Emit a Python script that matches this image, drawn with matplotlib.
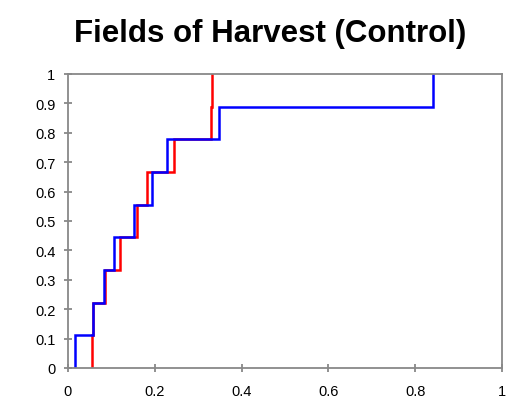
import numpy as np
import matplotlib
matplotlib.use("Agg")
import matplotlib.pyplot as plt

plt.rcParams['font.family'] = ['Liberation Sans', 'DejaVu Sans']

# ECDF jump locations (9 observations each)
red_x = [0.055, 0.058, 0.085, 0.120, 0.160, 0.181, 0.245, 0.329, 0.331]
blue_x = [0.015, 0.057, 0.083, 0.106, 0.152, 0.194, 0.229, 0.348, 0.841]
cdf_levels = [1/9, 2/9, 3/9, 4/9, 5/9, 6/9, 7/9, 8/9, 1.0]

x_ticks = [0, 0.2, 0.4, 0.6, 0.8, 1]
x_labels = ['0', '0.2', '0.4', '0.6', '0.8', '1']
y_ticks = [0, 0.1, 0.2, 0.3, 0.4, 0.5, 0.6, 0.7, 0.8, 0.9, 1]
y_labels = ['0', '0.1', '0.2', '0.3', '0.4', '0.5', '0.6', '0.7', '0.8', '0.9', '1']
title = 'Fields of Harvest (Control)'

fig = plt.figure(figsize=(5.18, 4.02), dpi=100)
ax = fig.add_axes([68/518, 1-369/402, (502-68)/518, (369-75)/402])

for xs, col in [(red_x, '#ff0000'), (blue_x, '#0000ff')]:
    ax.step(np.r_[xs[0], xs], np.r_[0.0, cdf_levels], where='post',
            color=col, linewidth=1.8, solid_joinstyle='miter')

ax.set_xlim(0, 1)
ax.set_ylim(0, 1)
ax.set_xticks(x_ticks)
ax.set_xticklabels(x_labels)
ax.set_yticks(y_ticks)
ax.set_yticklabels(y_labels)
for s in ax.spines.values():
    s.set_color('#888888')
    s.set_linewidth(1.3)
ax.tick_params(axis='both', direction='inout', length=6, width=1.3,
               color='#888888', labelsize=10.5, labelcolor='black')
ax.tick_params(axis='x', pad=8.5)
ax.tick_params(axis='y', pad=6)

fig.text(270/518, 1-34/402, title, ha='center', va='center',
         fontsize=22.5, fontweight='bold', color='black')

fig.savefig('out.png', dpi=100)
